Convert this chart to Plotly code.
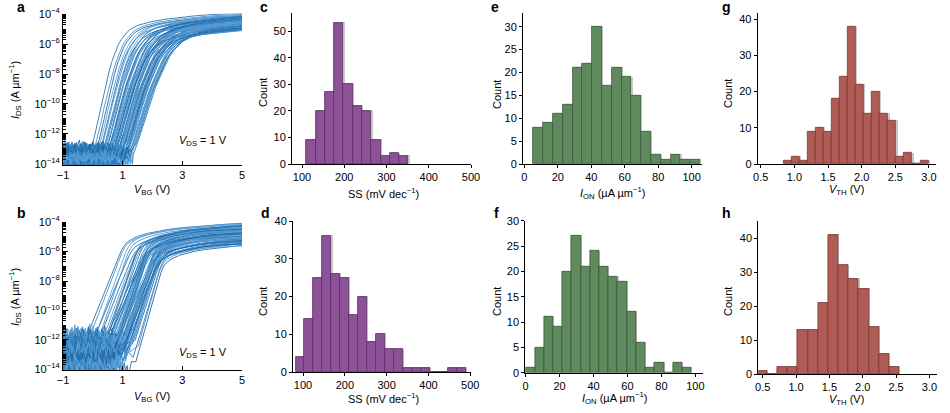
import numpy as np
import plotly.graph_objects as go

# ---------------- data ----------------
# Transfer-curve template (panel a), u = (V - onset)/stretch, log10(I)
A_U = [0.0, 0.1, 0.2, 0.3, 0.4, 0.5, 0.6, 0.7, 0.8, 0.9, 1.0, 1.1, 1.2, 1.3, 1.4, 1.5,
       1.6, 1.8, 2.0, 2.5, 3.0, 3.5, 4.0, 4.5, 5.0, 5.5]
A_LOG = [-13.0, -12.2, -11.3, -10.3, -9.4, -8.5, -7.8, -7.1, -6.5, -6.05, -5.7, -5.42,
         -5.2, -5.03, -4.9, -4.8, -4.72, -4.6, -4.5, -4.33, -4.2, -4.1, -4.03, -3.98,
         -3.94, -3.9]
A_ONSET = [-0.05, 0.05, 0.12, 0.18, 0.22, 0.28, 0.30, 0.34, 0.38, 0.40, 0.43, 0.45, 0.48,
           0.50, 0.52, 0.55, 0.57, 0.60, 0.62, 0.64, 0.66, 0.68, 0.70, 0.72, 0.74, 0.76,
           0.78, 0.80, 0.82, 0.84, 0.86, 0.88, 0.90, 0.92, 0.94, 0.96, 0.98, 1.00, 1.02,
           1.04, 1.06, 1.08, 1.10, 1.12, 1.15, 1.18, 1.20, 1.22, 1.25, 1.28, 1.30, 1.33,
           1.35, 0.58, 0.69, 0.79, 0.87, 0.95, 1.05, 0.73]
A_STRETCH = [1.00, 1.05, 1.02, 1.10, 1.08, 1.12, 1.15, 1.10, 1.18, 1.12, 1.20, 1.15, 1.22,
             1.18, 1.25, 1.20, 1.28, 1.22, 1.30, 1.25, 1.32, 1.28, 1.25, 1.35, 1.30, 1.38,
             1.32, 1.28, 1.40, 1.35, 1.30, 1.42, 1.36, 1.33, 1.45, 1.38, 1.40, 1.35, 1.45,
             1.40, 1.38, 1.48, 1.42, 1.40, 1.45, 1.42, 1.50, 1.45, 1.48, 1.44, 1.50, 1.46,
             1.50, 1.18, 1.22, 1.26, 1.30, 1.36, 1.32, 1.20]
A_OFF = [0.0, -0.05, -0.15, -0.1, -0.3, -0.05, -0.4, -0.2, -0.1, -0.5, -0.25, -0.05, -0.35,
         -0.6, -0.15, -0.3, -0.45, -0.1, -0.55, -0.2, -0.7, -0.35, -0.05, -0.4, -0.25, -0.6,
         -0.15, -0.45, -0.3, -0.75, -0.2, -0.5, -0.1, -0.65, -0.35, -0.25, -0.55, -0.15,
         -0.45, -0.8, -0.3, -0.2, -0.6, -0.4, -0.7, -0.25, -0.5, -0.35, -0.6, -0.3, -0.45,
         -0.2, -0.4, -0.8, -0.9, -0.85, -0.9, -0.85, -0.75, -0.5]
A_FLOOR = [-13.2, -13.6, -13.0, -13.8, -13.4, -14.2, -13.1, -13.5, -13.9, -13.3, -12.9,
           -13.7, -14.4, -13.2, -13.6, -13.0, -13.8, -14.1, -13.4, -13.1, -13.5, -14.3,
           -13.2, -13.9, -13.0, -13.6, -14.5, -13.3, -13.7, -13.1, -14.0, -13.4, -13.8,
           -13.2, -14.2, -13.5, -13.0, -13.9, -14.6, -13.3, -13.6, -13.1, -14.0, -13.7,
           -13.4, -14.4, -13.2, -13.8, -13.5, -14.2, -13.3, -13.9, -14.8, -13.4, -13.0,
           -13.6, -13.2, -13.8, -14.1, -13.5]

# Transfer-curve template (panel b)
B_U = [0.0, 0.2, 0.4, 0.6, 0.8, 1.0, 1.2, 1.3, 1.4, 1.5, 1.6, 1.8, 2.0, 2.3, 2.6, 3.0,
       3.5, 4.0, 4.5, 5.0, 5.5, 6.0, 7.0, 8.0, 9.0]
B_LOG = [-13.0, -12.0, -11.0, -9.95, -8.9, -7.9, -6.95, -6.4, -5.95, -5.6, -5.35, -5.1,
         -4.93, -4.75, -4.62, -4.48, -4.36, -4.27, -4.19, -4.12, -4.07, -4.02, -3.95, -3.9,
         -3.85]
B_ONSET = [-0.45, -0.35, -0.25, -0.15, -0.10, -0.02, 0.05, 0.10, 0.15, 0.20, 0.25, 0.30,
           0.33, 0.36, 0.40, 0.43, 0.46, 0.50, 0.53, 0.56, 0.60, 0.63, 0.66, 0.70, 0.73,
           0.76, 0.80, 0.83, 0.86, 0.90, 0.93, 0.96, 1.00, 1.05, 1.10, 1.15, 1.20, 1.25,
           1.30, 0.38, 0.48, 0.58, 0.68, 0.78, 0.88, 0.98, 0.28, 0.45, 0.62, 0.75, 0.85,
           0.55, 0.65, 0.72, 0.92, 1.02, 0.18, 0.42, 0.70, 0.82]
B_STRETCH = [1.0, 0.95, 1.05, 0.9, 1.0, 0.85, 1.1, 0.95, 0.9, 1.05, 0.85, 1.0, 0.9, 0.8,
             1.1, 0.95, 0.85, 1.0, 0.9, 0.8, 0.95, 0.85, 1.05, 0.8, 0.9, 0.75, 0.95, 0.85,
             0.8, 0.9, 0.75, 0.85, 0.8, 0.75, 0.8, 0.72, 0.75, 0.7, 0.7, 1.0, 0.9, 0.85,
             0.95, 0.8, 0.85, 0.78, 1.05, 0.92, 0.88, 0.82, 0.9, 1.0, 0.8, 0.95, 0.85, 0.8,
             1.1, 0.95, 1.0, 0.88]
B_OFF = [0.0, -0.1, -0.3, -0.05, -0.5, -0.2, -0.7, -0.15, -0.4, -0.9, -0.25, -0.6, -0.1,
         -0.35, -1.0, -0.45, -0.2, -0.8, -0.55, -0.3, -1.1, -0.4, -0.7, -0.25, -0.9, -0.5,
         -1.2, -0.35, -0.6, -1.0, -0.45, -0.8, -1.3, -0.6, -1.0, -0.7, -1.2, -1.4, -1.5,
         -0.3, -0.65, -0.95, -0.5, -1.1, -0.75, -1.25, -0.2, -0.85, -0.4, -0.95, -0.55,
         -1.35, -0.15, -0.6, -1.05, -0.9, -0.5, -0.7, -1.2, -0.35]
B_FLOOR = [-12.2, -12.8, -11.8, -13.3, -12.5, -13.8, -12.0, -12.6, -13.1, -11.6, -12.9,
           -12.3, -13.6, -12.1, -12.7, -14.2, -12.4, -11.9, -13.0, -12.6, -13.4, -12.2,
           -11.7, -12.8, -13.9, -12.5, -12.0, -13.2, -12.7, -14.5, -12.3, -11.9, -12.9,
           -13.5, -12.4, -12.1, -13.0, -12.6, -14.0, -12.8, -11.8, -12.5, -13.3, -12.2,
           -12.7, -13.7, -12.0, -12.9, -12.4, -14.3, -12.6, -11.7, -13.1, -12.3, -12.8,
           -13.6, -12.1, -12.5, -13.0, -12.7]

# measured noise-floor jitter (decades)
FLOOR_JITTER = [0.12, -0.25, 0.35, -0.1, 0.05, -0.38, 0.22, 0.48, -0.15, 0.0, -0.3, 0.28,
                -0.05, 0.18, -0.42, 0.1, 0.38, -0.2, 0.02, -0.12, 0.3, -0.35, 0.15, 0.42,
                -0.08, -0.28, 0.2, 0.05, -0.45, 0.25, 0.08, -0.18, 0.33, -0.02, 0.45, -0.3,
                0.1]

# Histograms: first bin edge, bin width, counts
C_START, C_W = 110.0, 22.0
C_COUNTS = [9, 20, 27, 53, 30, 22, 20, 9, 3, 4, 3]
D_START, D_W = 82.0, 21.4
D_COUNTS = [4, 14, 25, 36, 26, 25, 15, 20, 8, 10, 6, 6, 1, 1, 1, 0, 0, 1, 1]
E_START, E_W = 5.4, 5.86
E_COUNTS = [8, 9, 11, 13, 21, 22, 30, 17, 21, 19, 15, 7, 2, 1, 2, 1, 1]
F_START, F_W = 0.0, 5.43
F_COUNTS = [1, 5, 11, 9, 20, 27, 21, 24, 21, 19, 18, 12, 6, 1, 2, 0, 2, 1]
G_START, G_W = 0.837, 0.1196
G_COUNTS = [1, 2, 1, 9, 10, 9, 18, 24, 38, 22, 14, 20, 14, 12, 2, 3, 0, 1]
H_START, H_W = 0.415, 0.1525
H_COUNTS = [1, 0, 2, 2, 13, 13, 21, 41, 32, 28, 25, 14, 6, 2]

# ---------------- layout helpers ----------------
W, H = 950, 413
FONT = "Liberation Sans, Arial, Helvetica, sans-serif"
def dx(l, r): return [l / W, r / W]
def dy(t, b): return [1 - b / H, 1 - t / H]

fig = go.Figure()

# ---------------- transfer curves ----------------
floor_v = np.round(np.arange(-1.0, 1.61, 0.05), 3)
jit = np.array(FLOOR_JITTER)
blues = ["#2b77b6", "#4a93cf", "#1f69a8", "#5a9fd6"]

def add_curves(U, LOG, onset, stretch, off, floor, amp, xa, ya):
    U = np.array(U); LOG = np.array(LOG)
    for i, (o, s, of, fl) in enumerate(zip(onset, stretch, off, floor)):
        fx = floor_v[floor_v < o]
        idx = (np.arange(len(fx)) + 7 * i) % len(jit)
        fy = fl + amp * jit[idx]
        tx = o + s * U
        ty = np.maximum(LOG + of, fl + amp * jit[(len(fx) + np.arange(len(U)) + 7 * i) % len(jit)] * (U < 0.3))
        x = np.concatenate([fx, tx]); y = np.concatenate([fy, ty])
        fig.add_trace(go.Scatter(x=x, y=10 ** y, mode="lines",
                                 line=dict(color=blues[i % 4], width=0.9),
                                 xaxis=xa, yaxis=ya, showlegend=False, hoverinfo="skip"))

add_curves(A_U, A_LOG, A_ONSET, A_STRETCH, A_OFF, A_FLOOR, 1.0, "x", "y")
add_curves(B_U, B_LOG, B_ONSET, B_STRETCH, B_OFF, B_FLOOR, 1.4, "x2", "y2")

# ---------------- histograms ----------------
panels = {
    "c": dict(start=C_START, w=C_W, counts=C_COUNTS, xa="x3", ya="y3", fill="#8d5198", line="#5b2e64",
              dom=(292, 471, 13, 164), xr=[76.3, 500], yr=[0, 56.8]),
    "d": dict(start=D_START, w=D_W, counts=D_COUNTS, xa="x4", ya="y4", fill="#8d5198", line="#5b2e64",
              dom=(293, 470.5, 221, 372), xr=[76, 500.5], yr=[0, 40]),
    "e": dict(start=E_START, w=E_W, counts=E_COUNTS, xa="x5", ya="y5", fill="#5e8a5d", line="#3a5a3a",
              dom=(523, 701.7, 12.7, 164), xr=[-0.8, 106], yr=[0, 33.05]),
    "f": dict(start=F_START, w=F_W, counts=F_COUNTS, xa="x6", ya="y6", fill="#5e8a5d", line="#3a5a3a",
              dom=(525.3, 703.3, 220.7, 372.7), xr=[-0.2, 104.7], yr=[0, 30]),
    "g": dict(start=G_START, w=G_W, counts=G_COUNTS, xa="x7", ya="y7", fill="#b05c56", line="#7a3934",
              dom=(757.7, 935.7, 12.7, 164), xr=[0.455, 3.1], yr=[0, 41.8]),
    "h": dict(start=H_START, w=H_W, counts=H_COUNTS, xa="x8", ya="y8", fill="#b05c56", line="#7a3934",
              dom=(758.3, 936.7, 221, 374), xr=[0.434, 3.11], yr=[0, 45.1]),
}
for k, p in panels.items():
    n = len(p["counts"])
    centers = p["start"] + (np.arange(n) + 0.5) * p["w"]
    counts = np.array(p["counts"], dtype=float)
    l, r, t, b = p["dom"]
    ux = (p["xr"][1] - p["xr"][0]) / (r - l)   # data units per px
    uy = (p["yr"][1] - p["yr"][0]) / (b - t)
    sh = counts > 0
    fig.add_trace(go.Bar(x=centers[sh] + 1.2 * ux, y=counts[sh] + 0.8 * uy, width=p["w"],
                         marker=dict(color="#c9c9c9", line=dict(width=0)),
                         xaxis=p["xa"], yaxis=p["ya"], showlegend=False, hoverinfo="skip"))
    fig.add_trace(go.Bar(x=centers, y=counts, width=p["w"],
                         marker=dict(color=p["fill"], line=dict(color=p["line"], width=0.8)),
                         xaxis=p["xa"], yaxis=p["ya"], showlegend=False, hoverinfo="skip"))

# ---------------- axes ----------------
base = dict(showgrid=False, zeroline=False, showline=True, linecolor="black", linewidth=1,
            automargin=False,
            tickfont=dict(family=FONT, size=11, color="black"), tickcolor="black", tickwidth=1)

dec = list(range(-14, -3, 2))
ylog = dict(base, type="log", range=[-14.05, -3.95], tickvals=[10.0 ** d for d in dec],
            ticktext=["10<sup>−%d</sup>" % -d for d in dec],
            ticks="inside", ticklen=5,
            minor=dict(ticks="inside", ticklen=3, dtick="D1", tickcolor="black", showgrid=False))
xv = dict(base, range=[-1, 5], tickvals=[-1, 1, 3, 5], ticktext=["−1", "1", "3", "5"],
          ticks="inside", ticklen=4)

lay = {}
lay["xaxis"] = dict(xv, domain=dx(63, 242), anchor="y")
lay["yaxis"] = dict(ylog, domain=dy(13.5, 164.5), anchor="x")
lay["xaxis2"] = dict(xv, domain=dx(63, 242), anchor="y2")
lay["yaxis2"] = dict(ylog, domain=dy(221.5, 370), anchor="x2")

tick_specs = {
    "c": (list(range(100, 501, 100)), None, list(range(0, 51, 10))),
    "d": (list(range(100, 501, 100)), None, list(range(0, 41, 10))),
    "e": (list(range(0, 101, 20)), None, list(range(0, 31, 5))),
    "f": (list(range(0, 101, 20)), None, list(range(0, 31, 5))),
    "g": ([0.5, 1.0, 1.5, 2.0, 2.5, 3.0], ["0.5", "1.0", "1.5", "2.0", "2.5", "3.0"], list(range(0, 41, 10))),
    "h": ([0.5, 1.0, 1.5, 2.0, 2.5, 3.0], ["0.5", "1.0", "1.5", "2.0", "2.5", "3.0"], list(range(0, 41, 10))),
}
for i, k in enumerate("cdefgh"):
    p = panels[k]
    l, r, t, b = p["dom"]
    n = i + 3
    xt, xtt, yt = tick_specs[k]
    xd = dict(base, domain=dx(l, r), range=p["xr"], tickvals=xt, ticks="outside", ticklen=3,
              anchor="y%d" % n)
    if xtt:
        xd["ticktext"] = xtt
    lay["xaxis%d" % n] = xd
    lay["yaxis%d" % n] = dict(base, domain=dy(t, b), range=p["yr"], tickvals=yt, ticks="outside",
                              ticklen=3, anchor="x%d" % n)

# ---------------- annotations ----------------
ann = []
def txt(x, y, s, size=11, bold=False, angle=0, xanchor="center"):
    ann.append(dict(x=x / W, y=1 - y / H, xref="paper", yref="paper", text=("<b>%s</b>" % s) if bold else s,
                    showarrow=False, textangle=angle, xanchor=xanchor, yanchor="middle",
                    font=dict(family=FONT, size=size, color="black")))

for s, x, y in [("a", 21, 7), ("b", 21, 213), ("c", 264, 7), ("d", 265, 213),
                ("e", 495, 7), ("f", 496, 213), ("g", 726, 7), ("h", 726, 213)]:
    txt(x, y, s, size=14, bold=True)

ids = "<i>I</i><sub>DS</sub> (A µm<sup>−1</sup>)"
txt(15, 90, ids, angle=-90)
txt(15, 297, ids, angle=-90)
vbg = "<i>V</i><sub>BG</sub> (V)"
txt(152, 190, vbg)
txt(152, 397, vbg)
vds = "<i>V</i><sub>DS</sub> = 1 V"
txt(203, 141, vds)
txt(203, 353, vds)

for x, y in [(263, 93), (263, 302), (497, 95), (497, 302), (728, 94), (728, 302)]:
    txt(x, y, "Count", angle=-90)
ss = "SS (mV dec<sup>−1</sup>)"
txt(383, 193, ss)
txt(383, 398, ss)
ion = "<i>I</i><sub>ON</sub> (µA µm<sup>−1</sup>)"
txt(612, 193, ion)
txt(614, 398, ion)
vth = "<i>V</i><sub>TH</sub> (V)"
txt(846, 190, vth)
txt(846, 400, vth)

fig.update_layout(width=W, height=H, margin=dict(l=0, r=0, t=0, b=0),
                  paper_bgcolor="white", plot_bgcolor="white", barmode="overlay", bargap=0,
                  showlegend=False, annotations=ann, font=dict(family=FONT, size=11, color="black"),
                  **lay)
fig.write_html("out.html", config={"displayModeBar": False},
               post_script="document.body.style.margin='0px';document.body.style.overflow='hidden';")
